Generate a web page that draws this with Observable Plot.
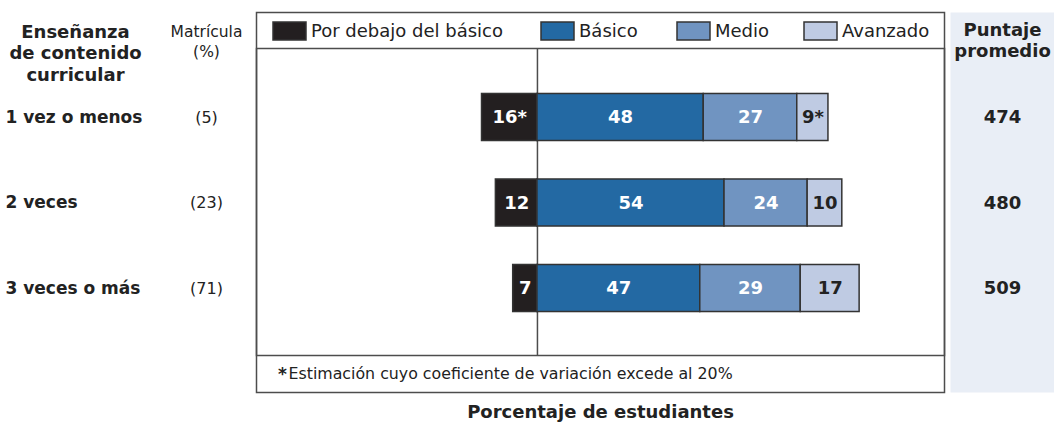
<!DOCTYPE html>
<html>
<head>
<meta charset="utf-8">
<script src="https://cdn.jsdelivr.net/npm/d3@7"></script>
<script src="https://cdn.jsdelivr.net/npm/@observablehq/plot@0.6"></script>
<style>
  html, body { margin: 0; padding: 0; background: white; }
  #wrap { position: relative; width: 1054px; height: 425px; font-family: "DejaVu Sans", Verdana, sans-serif; color: #222; }
  #wrap svg { display: block; }
</style>
</head>
<body>
<div id="wrap"></div>
<script>
// ---- data ----
const categories = ["1 vez o menos", "2 veces", "3 veces o más"];
const matricula = [5, 23, 71];
const puntaje = [474, 480, 509];
const levels = ["Por debajo del básico", "Básico", "Medio", "Avanzado"];
const porDebajo = [16, 12, 7];
const basico = [48, 54, 47];
const medio = [27, 24, 29];
const avanzado = [9, 10, 17];
const porDebajoStar = [true, false, false];
const avanzadoStar = [true, false, false];
const colors = ["#231f20", "#2369a3", "#7094c1", "#bfcbe3"];

const rows = categories.flatMap((cat, i) => [
  {cat, level: levels[0], v: -porDebajo[i], label: porDebajo[i] + (porDebajoStar[i] ? "*" : "")},
  {cat, level: levels[1], v: basico[i], label: String(basico[i])},
  {cat, level: levels[2], v: medio[i], label: String(medio[i])},
  {cat, level: levels[3], v: avanzado[i], label: avanzado[i] + (avanzadoStar[i] ? "*" : "")}
]);
const side = categories.map((cat, i) => ({cat, mat: `(${matricula[i]})`, pts: String(puntaje[i])}));

const border = "#4d4d4d";
const plot = Plot.plot({
  width: 1054, height: 425,
  marginLeft: 256, marginRight: 110, marginTop: 12, marginBottom: 33,
  x: {domain: [-81.1, 117.5], axis: null},
  y: {domain: categories, range: [55, 350], padding: 0.45, round: false, axis: null},
  color: {domain: levels, range: colors},
  style: {fontFamily: "'DejaVu Sans', Verdana, sans-serif", fontSize: "16px", color: "#222", background: "white", overflow: "visible"},
  marks: [
    Plot.frame({fill: "#e9eef6", stroke: "none", insetLeft: 694, insetRight: -110}),
    Plot.frame({stroke: border, strokeWidth: 1.5}),
    Plot.frame({stroke: border, strokeWidth: 1.5, insetTop: 36, insetBottom: 37}),
    Plot.ruleX([0], {stroke: border, strokeWidth: 1.5, insetTop: 36, insetBottom: 37}),
    Plot.barX(rows, Plot.stackX({x: "v", y: "cat", fill: "level", stroke: "#333", strokeWidth: 1.5})),
    Plot.text(rows, Plot.stackX({x: "v", y: "cat", text: d => d.level === "Avanzado" ? "" : d.label, fill: "white", fontWeight: "bold", fontSize: 18})),
    Plot.text(rows, Plot.stackX({x: "v", y: "cat", text: d => d.level === "Avanzado" ? d.label : "", fill: "#222", fontWeight: "bold", fontSize: 18})),
    // headers
    Plot.text(["Enseñanza\nde contenido\ncurricular"], {text: d => d, frameAnchor: "top-left", dx: -181, dy: 10, textAnchor: "middle", lineAnchor: "top", lineHeight: 1.2, fontWeight: "bold", fontSize: 18}),
    Plot.text(["Matrícula\n(%)"], {text: d => d, frameAnchor: "top-left", dx: -50, dy: 10, textAnchor: "middle", lineAnchor: "top", lineHeight: 1.3, fontSize: 15.5}),
    Plot.text(["Puntaje\npromedio"], {text: d => d, frameAnchor: "top-right", dx: 58, dy: 8, textAnchor: "middle", lineAnchor: "top", lineHeight: 1.2, fontWeight: "bold", fontSize: 18}),
    // row labels
    Plot.text(side, {y: "cat", text: "cat", frameAnchor: "left", dx: -251, textAnchor: "start", fontWeight: "bold", fontSize: 17}),
    Plot.text(side, {y: "cat", text: "mat", frameAnchor: "left", dx: -50, textAnchor: "middle", fontSize: 16}),
    Plot.text(side, {y: "cat", text: "pts", frameAnchor: "right", dx: 58, textAnchor: "middle", fontWeight: "bold", fontSize: 18}),
    // footnote
    Plot.text(["*"], {text: d => d, frameAnchor: "bottom-left", dx: 26, dy: -13, textAnchor: "middle", fontWeight: "bold", fontSize: 17}),
    Plot.text(["Estimación cuyo coeficiente de variación excede al 20%"], {text: d => d, frameAnchor: "bottom-left", dx: 32, dy: -14, textAnchor: "start", fontSize: 15.8}),
    // axis title
    Plot.text(["Porcentaje de estudiantes"], {text: d => d, frameAnchor: "bottom", dy: 25, textAnchor: "middle", fontWeight: "bold", fontSize: 18})
  ]
});

const wrap = document.getElementById("wrap");
wrap.appendChild(plot);

const leg = Plot.legend({
  color: {domain: levels, range: colors},
  legend: "swatches", swatchWidth: 33, swatchHeight: 18, className: "lg"
});
Object.assign(leg.style, {
  position: "absolute", left: "273px", top: "22px", margin: "0", minHeight: "0",
  fontFamily: "'DejaVu Sans', Verdana, sans-serif", fontSize: "18px", lineHeight: "18px",
  color: "#222", width: "680px", flexWrap: "nowrap", display: "flex", alignItems: "center"
});
let items = [...leg.querySelectorAll(".lg-swatch")];
if (!items.length) items = [...leg.children].filter(e => e.tagName !== "STYLE");
const itemWidths = [268, 136, 127, null];
items.forEach((it, i) => {
  it.style.marginRight = "0";
  it.style.flexShrink = "0";
  it.style.whiteSpace = "nowrap";
  if (itemWidths[i]) it.style.width = itemWidths[i] + "px";
  const s = it.querySelector("svg");
  if (s) {
    s.style.marginRight = "5px";
    s.style.overflow = "visible";
    s.querySelectorAll("rect").forEach(r => { r.setAttribute("stroke", "#333"); r.setAttribute("stroke-width", "1.5"); });
  }
});
wrap.appendChild(leg);
</script>
</body>
</html>
